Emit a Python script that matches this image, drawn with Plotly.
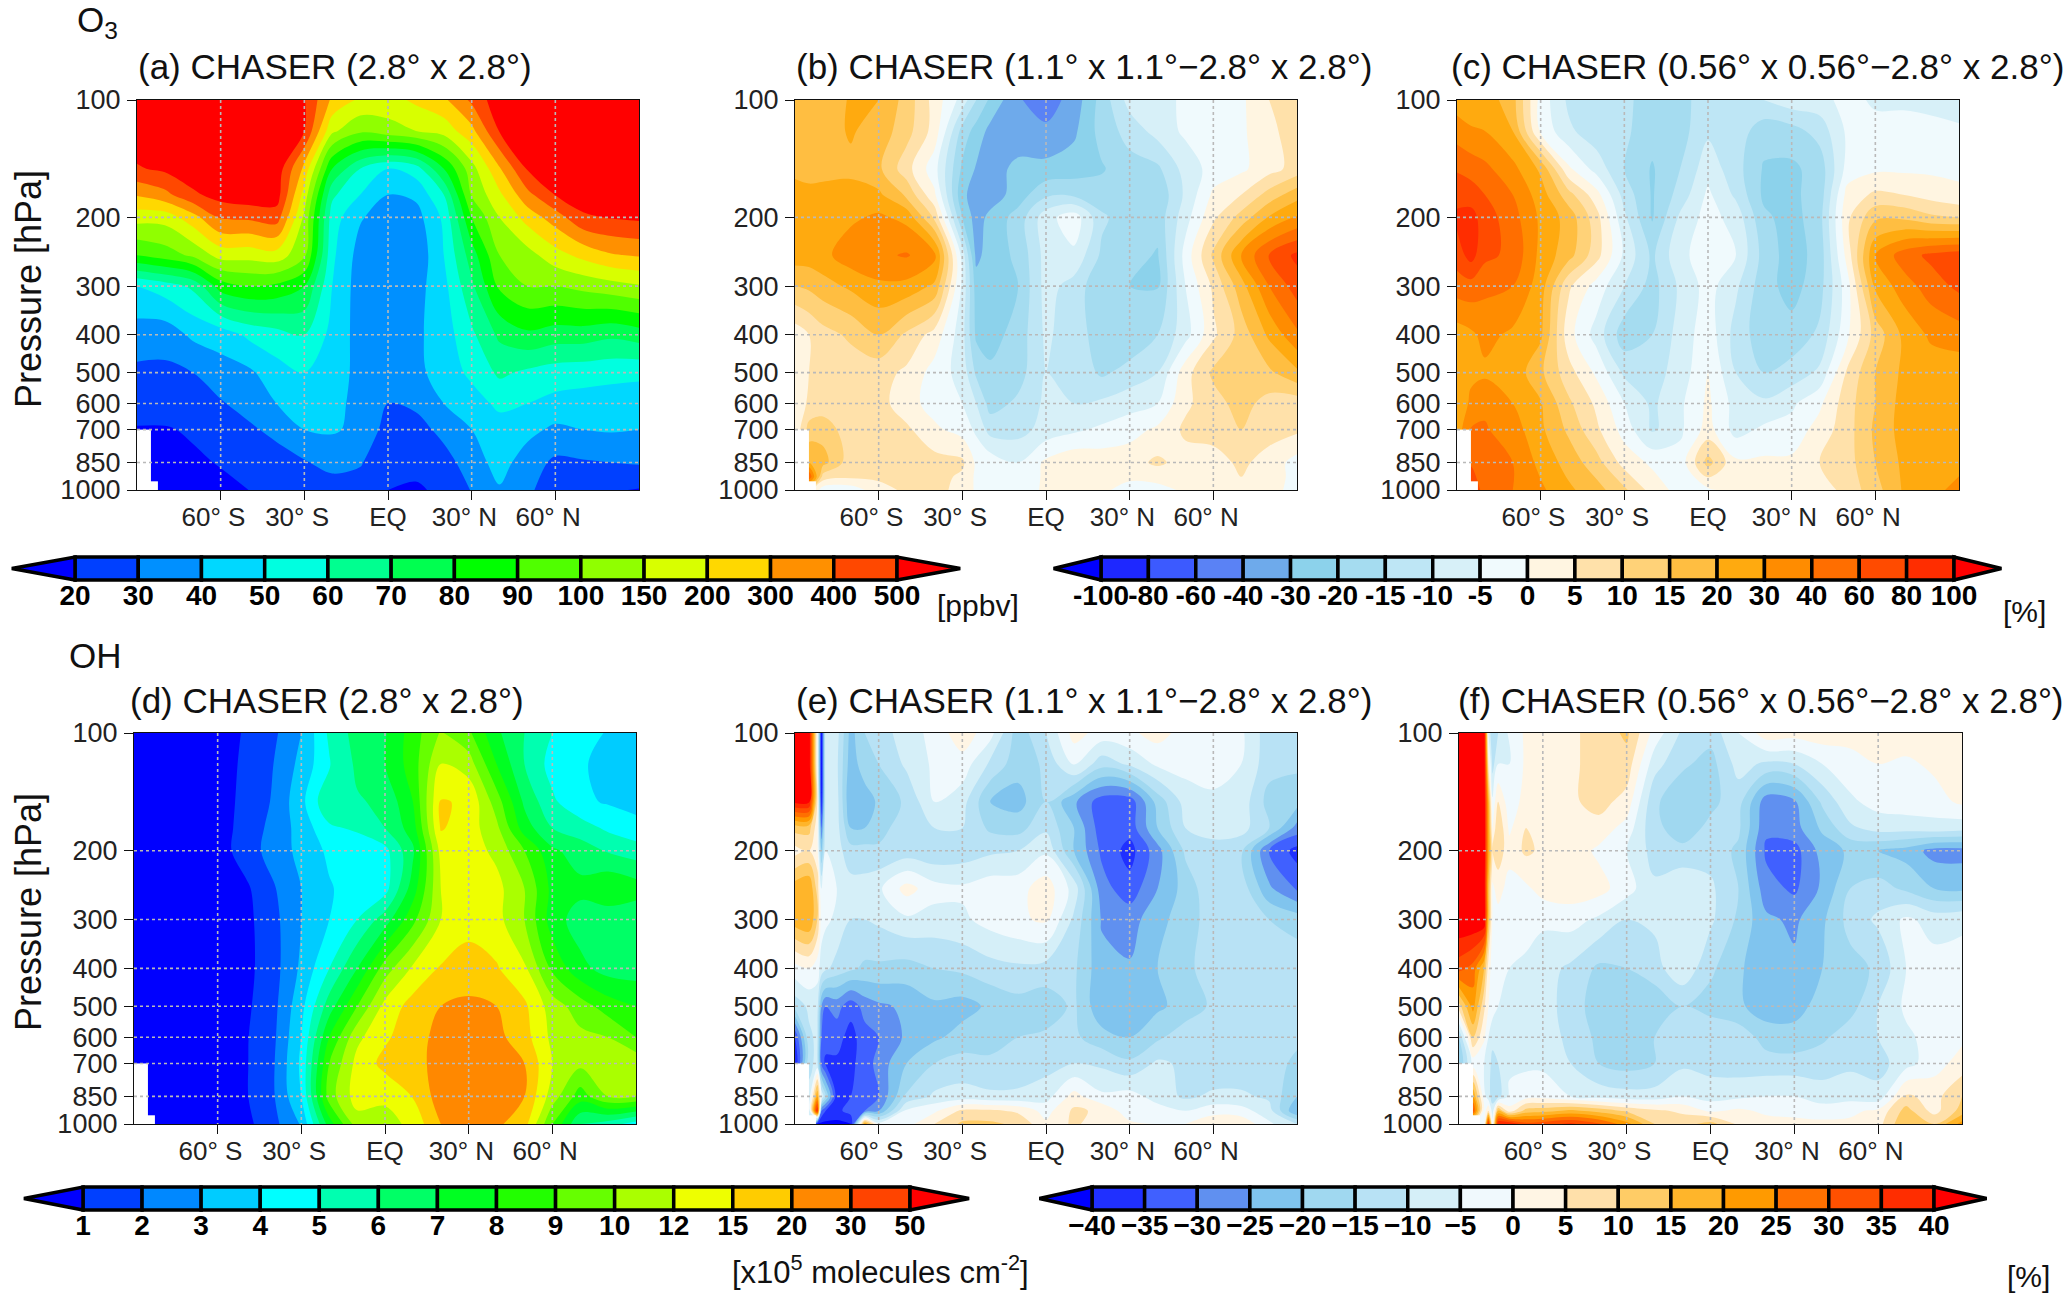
import numpy as np
import plotly.graph_objects as go

W, H = 2067, 1298

# ---------- tick labels / levels ----------
LAT_TICKS = [-60, -30, 0, 30, 60]
LAT_LABELS = ["60° S\u00a0\u00a0", "30° S\u00a0\u00a0", "EQ", "30° N\u00a0\u00a0", "60° N\u00a0\u00a0"]
P_TICKS = [100, 200, 300, 400, 500, 600, 700, 850, 1000]

O3_LEVELS = [20, 30, 40, 50, 60, 70, 80, 90, 100, 150, 200, 300, 400, 500]
O3_COLORS = ["#0000ff", "#0040ff", "#0090ff", "#00d8ff", "#00ffe0", "#00ff90", "#00ff50", "#00ff00",
             "#50ff00", "#90ff00", "#d8ff00", "#ffd800", "#ff9000", "#ff4800", "#ff0000"]
O3D_LEVELS = [-100, -80, -60, -40, -30, -20, -15, -10, -5, 0, 5, 10, 15, 20, 30, 40, 60, 80, 100]
O3D_LABELS = ["-100", "-80", "-60", "-40", "-30", "-20", "-15", "-10", "-5", "0", "5", "10", "15", "20", "30", "40", "60", "80", "100"]
O3D_COLORS = ["#0000ff", "#1e28ff", "#3c5aff", "#5a82f5", "#6eaaeb", "#8cd2eb", "#a5dcf0", "#bee6f5", "#d7f0f8", "#f0fafd",
              "#fff5e1", "#ffe1aa", "#ffd278", "#ffbe41", "#ffaa0f", "#ff8c00", "#ff6e00", "#ff4b00", "#ff2d00", "#ff0000"]
OH_LEVELS = [1, 2, 3, 4, 5, 6, 7, 8, 9, 10, 12, 15, 20, 30, 50]
OH_COLORS = ["#0000ff", "#0040ff", "#0088ff", "#00ccff", "#00ffff", "#00ffb0", "#00ff66", "#00ff22", "#22ff00",
             "#66ff00", "#aaff00", "#eeff00", "#ffcc00", "#ff8800", "#ff4400", "#ff0000"]
OHD_LEVELS = [-40, -35, -30, -25, -20, -15, -10, -5, 0, 5, 10, 15, 20, 25, 30, 35, 40]
OHD_LABELS = ["\u221240", "\u221235", "\u221230", "\u221225", "\u221220", "\u221215", "\u221210", "\u22125", "0", "5", "10", "15", "20", "25", "30", "35", "40"]
OHD_COLORS = ["#0000ff", "#2030ff", "#4060ff", "#6090f0", "#80c4ee", "#a0d8f0", "#b8e2f5", "#d5eff8", "#f0f9fd",
              "#fff5e4", "#ffe0aa", "#ffcc66", "#ffb52a", "#ff9a00", "#ff7000", "#ff5000", "#ff2d00", "#ff0000"]

# ---------- grids ----------
LAT_STD = [-90, -80, -70, -60, -50, -40, -30, -20, -10, 0, 10, 20, 30, 40, 50, 60, 70, 80, 90]
LAT_B = [-90, -85, -80, -70, -60, -50, -40, -30, -25, -20, -10, 0, 10, 20, 30, 40, 50, 60, 70, 80, 90]
LAT_85 = [-90, -85, -80, -70, -60, -50, -40, -30, -20, -10, 0, 10, 20, 30, 40, 50, 60, 70, 80, 90]
LAT_E = [-90, -85, -82, -80.5, -79, -75, -70, -65, -60, -50, -40, -30, -20, -10, 0, 10, 20, 30, 40, 50, 60, 70, 80, 90]
LAT_F = [-90, -85, -81, -79.5, -78, -76, -72, -66, -60, -50, -40, -30, -20, -10, 0, 10, 20, 30, 40, 50, 60, 70, 80, 90]
P_13 = [100, 120, 150, 175, 200, 250, 300, 400, 500, 600, 700, 850, 1000]
P_14 = [100, 120, 150, 175, 200, 250, 300, 400, 500, 600, 700, 850, 925, 1000]

# ---------- panel values (rows = pressure, columns = latitude) ----------
o3_a = [
 [700,700,700,700,700,700,520,280,190,180,220,280,420,700,700,700,700,700,700],
 [700,700,700,700,700,700,500,160,110,130,150,170,270,520,700,700,700,700,700],
 [490,560,700,700,700,700,270,80,60,50,55,80,130,290,530,700,700,700,700],
 [310,370,480,620,700,650,180,62,50,40,42,60,105,190,370,510,700,700,700],
 [170,170,260,410,420,450,140,55,41,35,36,52,90,150,240,350,480,520,560],
 [90,95,110,170,170,180,110,52,36,31,32,50,75,100,130,180,230,290,310],
 [50,55,62,85,90,88,80,50,35,35,36,47,68,92,100,100,115,130,145],
 [35,34,42,44,52,56,60,47,36,35,38,45,58,72,78,75,75,72,75],
 [28,28,30,36,38,46,50,45,37,35,37,45,52,62,58,55,54,53,52],
 [24,24,27,29,34,40,44,42,38,30,32,40,46,52,50,47,46,45,45],
 [19,19,21,25,28,33,40,41,38,26,26,33,40,46,43,38,40,41,40],
 [17,17,18,20.5,24,25,29,34,31,22,23,26,35,44,35,28,29,30,31],
 [16,15,16,17,20,21,24,24,25,20,18,22,30.5,39,31,27,23,21,19],
]
o3_b = [
 [16,16,17,21,20,13,3,-7,-15,-22,-39,-50,-36,-18,-8,-7,-4,-3,-1,5,7],
 [17,17,18,21,18,12,3,-17,-24,-33,-37,-38,-32,-18,-13,-8,-4,-3,-1,4,7],
 [19,18,19,19,16,7,-3,-22,-31,-35,-27,-27,-25,-21,-17,-16,-8,-3,-1,3,7],
 [23,23,22,23,22,14,1,-28,-34,-36,-25,-16,-16,-18,-18,-19,-9,1,5,12,18],
 [27,27,27,28,32,27,9,-20,-35,-27,-18,-7,-2,-14,-18,-18,-7,4,12,21,31],
 [25,25,27,36,38,42,33,-7,-33,-25,-19,-8,-6,-16,-18,-21,-3,11,30,62,85],
 [15,16,18,22,28,27,19,-6,-25,-25,-20,-8,-12,-19,-20,-21,-5,6,18,40,70],
 [2,5,8,11,15,9,3,-8,-22,-24,-18,-9,-13,-17,-19,-15,-7,4,12,22,38],
 [3,5,7,7,7,4,-2,-7,-16,-19,-17,-10,-11,-16,-13,-10,3,11,13,14,19],
 [1,6,7,7,7,2,-2,-5,-10,-17,-14,-9,-10,-9,-7,-5,4,8,12,8,7],
 [1,12,13,7,6,6,1,-2,-6,-12,-12,-8,-6,-4,-2,1,6,7,10,7,6],
 [1,20,17,7,6,6,7,6,-1,-2,-5,1,4,3,3,6,3,3,6,3,-2],
 [1,60,8,6,6,6,7,4,-1,-1,-4,1,2,2,1,2,2,3,5,3,-2],
 [1,8,-3,-3,3,6,6,4,-1,-1,-3,1,1,1,-2,-2,1,3,4,2,-2],
]
o3_c = [
 [25,25,26,17,-2,-11,-13,-14,-17,-17,-12,-12,-10,-7,-7,-3,-6,-6,-7,-8],
 [35,31,30,20,-1,-9,-13,-14,-18,-17,-11,-12,-18,-17,-13,-4,-3,-3,-3,-4],
 [58,52,45,33,19,1,-7,-15,-21,-15,-7,-13,-21,-22,-18,-3,-1,-1,-1,-1],
 [72,70,60,40,25,12,2,-12,-21,-13,-4,-11,-22,-22,-18,2,6,5,3,1],
 [85,88,70,48,28,18,7,-9,-21,-9,-3,-7,-19,-24,-17,4,14,14,11,10],
 [70,88,65,55,27,17,7,-6,-16,-6,-3,-5,-17,-25,-18,2,30,50,65,72],
 [50,52,45,40,25,6,-2,-10,-17,-9,-3,-9,-18,-24,-17,-2,22,35,50,65],
 [25,28,33,28,22,2,-7,-18,-15,-8,-2,-12,-18,-18,-14,-1,12,22,32,35],
 [20,28,28,27,16,7,-1,-11,-12,-8,0,-10,-15,-13,-9,6,15,22,24,24],
 [22,32,38,30,21,11,4,-5,-11,-6,1,-7,-9,-6,-1,8,15,24,25,25],
 [24,42,42,35,22,14,6,-2,-11,-6,2,-7,-4,-3,2,8,16,24,25,25],
 [24,55,45,40,27,18,12,3,-1,-3,12,1,1,1,5,8,15,22,25,26],
 [24,90,45,40,32,22,17,11,3,-2,-1,1,2,1,2,7,13,21,26,34],
]
oh_d = [
 [.5,.5,.5,.5,1.1,1.8,3,5.2,6.4,6.9,8.5,10.2,9.2,7.2,6,5,4.5,3.9,3.5],
 [.5,.5,.5,.5,1.2,2,3.3,4.9,6.2,7,8.5,12,11,8,6,4.6,4.2,3.5,3.3],
 [.5,.5,.5,.5,1.3,2.1,3.7,5.9,5.9,6.2,8,15.5,14.5,9.5,6.8,5.2,4.2,3.9,3.7],
 [.5,.5,.5,.5,1.4,2.3,3.4,4.8,5.2,6,7.5,15.5,13.5,10.5,7.5,6,5.5,4.8,4.3],
 [.5,.5,.5,.5,1.5,2.4,3.3,4.2,4.2,4.7,6.8,13,13.5,11.5,9,7.2,6.5,5.9,5.5],
 [.5,.5,.5,.5,.8,1.9,3,3.9,4.5,4.6,7.5,12,13.5,13,10,7.7,7.3,7.9,7.5],
 [.5,.5,.5,.5,.7,1.7,3,4,5,6.5,8.7,12,13.5,13,10,7.5,6.5,6.3,6.2],
 [.5,.5,.5,.5,.7,1.6,3.2,5,7,9.5,12.5,15.5,18,15.5,12.5,8.8,7.3,6.6,6.5],
 [.5,.5,.5,.5,.8,1.7,3.7,6.5,9,13,17,20,21.5,20,16,11,9.5,8.5,8],
 [.5,.5,.5,.5,.9,1.8,4,8,11.5,14.5,18,23,24,23,17,11.5,10.5,10,9],
 [.5,.5,.5,.5,.9,1.9,4.2,9,13,16.5,18,24,27,26,20,12,10.5,11,11.5],
 [.5,.5,.5,.5,.9,1.9,4,9.5,13.5,12.8,15.2,25,27,26,20,11,8.5,10,10],
 [.5,.5,.5,.5,.7,1.7,3.1,7.5,11,11,13,20,25,22,17,9,6,5.5,4.5],
]
oh_e = [
 [60,60,0,-50,-5,-8,-22,-15,-12,-8,-3,3,-3,-18,-10,2,-2,-1,2,-2,-3,-4,-13,-12],
 [60,60,0,-50,-5,-9,-23,-17,-15,-9,-4,-2,-11,-18,-14,-4,-13,-9,-4,-3,-3,-5,-13,-14],
 [45,45,5,-40,-6,-8,-25,-23,-19,-14,-5,-8,-20,-22,-15,-24,-33,-33,-18,-8,-6,-7,-17,-18],
 [12,12,2,-30,-5,-8,-20,-20,-17,-12,-10,-10,-16,-17,-11,-20,-33,-33,-20,-10,-8,-8,-15,-27],
 [3,5,2,-20,-5,-8,-13,-13,-14,-13,-14,-13,-11,-10,-6,-20,-31,-37,-27,-14,-12,-14,-30,-37],
 [18,20,8,-5,-3,-5,-8,-8,-6,2,-3,-4,-2,-2,3,-7,-28,-33,-25,-18,-11,-12,-24,-31],
 [18,20,10,-3,-4,-6,-10,-10,-9,-6,-7,-6,-3,-1,1,-11,-25.5,-27,-22,-17,-13,-13,-15,-17],
 [-2,0,-3,-7,-9,-12,-14,-16,-16,-17,-15,-14,-12,-11,-12,-14,-23.5,-24.5,-20,-16,-13,-11,-12,-12],
 [-13,-9,-8,-25,-30,-28,-33,-28,-26,-24,-21,-22,-19,-17,-18,-14,-24,-24.5,-21,-18,-14,-10,-12,-12],
 [-35,-11,-9,-30,-33,-33,-37,-32,-30,-24,-21,-18,-17,-15,-14,-14,-18,-20,-16,-12,-13,-12,-11,-13],
 [-40,-11,-9,-32,-36,-36,-36,-33,-28,-20,-15,-13,-14,-13,-12,-10,-11,-14,-9,-11,-14,-14,-11,-17],
 [-9,-9,20,-5,-15,-38,-35,-32,-30,-14,-9,-8,-9,-9,-7,2,-4,-3,-7,-11,-9,-9,-11,-20],
 [-9,-9,40,-30,-35,-37,-32,-30,-25,-4,-1,6,6,4,-2,6,4,-3,-3,-5,-2,-3,-8,-25],
 [-9,-9,-45,-45,-45,-45,-45,20,-3,-2,5,11,11,9,1,6,2,1,0,0,4,4,-4,-10],
]
oh_f = [
 [60,60,60,-5,-15,-10,-4,1,2,4,7,11,-2,-11,-13,-5,3,2,3,2,3,3,3,3],
 [60,60,60,5,-12,-5,-5,1,1,4,7,8,-8,-14,-17,-8,-11,-10,-5,-2,0,-1,1,3],
 [60,60,60,18,-4,5,-3,2,3,4,7,3,-14,-19,-16,-13,-28,-26,-14,-6,-3,-2,-2,1],
 [60,60,60,20,0,10,-1,5,3,4,3,-2,-14,-17,-14,-14,-29,-27,-19,-11,-8,-8,-7,-8],
 [60,60,60,20,5,8,2,6,4,3,-1,-5,-12,-14,-12,-16,-31,-32,-23,-19,-20,-22,-27,-27],
 [60,60,60,15,-1,2,-2,-1,2,3,2,-3,-9,-5,-9,-15,-28,-31,-24,-15,-13,-16,-20,-21],
 [60,60,60,15,-1,-2,-3,-3,-4,-3,-6,-10,-9,-5,-9,-16,-24,-26,-21,-13,-9,-4,-7,-6],
 [32,28,15,3,-3,-4,-5,-6,-8,-11,-16,-15,-12,-6,-14,-19,-24,-24,-20,-17,-14,-5,-3,-3],
 [8,22,6,0,-3,-5,-5,-7,-8,-12,-18,-19,-19,-15,-17,-19,-23,-22,-18,-17,-10,-4,-3,-3],
 [-15,10,1,-5,-8,-6,-6,-5,-6,-12,-16,-18,-15,-13,-11,-12,-17,-18,-16,-12,-10,-6,-3,-1],
 [-20,-3,-5,-7,-12,-10,-6,-6,-6,-10,-15,-17,-15,-11,-12,-13,-13,-13,-12,-11,-12,-7,-2,2],
 [-3,20,-3,-8,-12,-12,-4,-2,-2,-5,-7,-8,-8,-5,-7,-6,-5,-5,-8,-7,-8,6,3,10],
 [-3,32,-3,5,-8,15,2,12,13,16,13,9,6,4,-1,1,-1,-1,-2,-1,1,12,3,12],
 [-3,-3,-5,40,-3,40,40,32,33,36,31,22,10,8,12,4,2,1,1,1,3,15,10,22],
]

PANEL_TITLES = ["(a) CHASER (2.8° x 2.8°)", "(b) CHASER (1.1° x 1.1°\u22122.8° x 2.8°)", "(c) CHASER (0.56° x 0.56°\u22122.8° x 2.8°)",
                "(d) CHASER (2.8° x 2.8°)", "(e) CHASER (1.1° x 1.1°\u22122.8° x 2.8°)", "(f) CHASER (0.56° x 0.56°\u22122.8° x 2.8°)"]

# ---------- layout in pixels ----------
FONT = "Liberation Sans"
panels = [
    dict(z=o3_a, lat=LAT_STD, p=P_13, lev=O3_LEVELS, col=O3_COLORS, lo=5, hi=800, x=(137, 639), y=(100, 490), title=(136, 67)),
    dict(z=o3_b, lat=LAT_B, p=P_14, lev=O3D_LEVELS, col=O3D_COLORS, lo=-150, hi=150, x=(795, 1297), y=(100, 490), title=(794, 67)),
    dict(z=o3_c, lat=LAT_85, p=P_13, lev=O3D_LEVELS, col=O3D_COLORS, lo=-150, hi=150, x=(1457, 1959), y=(100, 490), title=(1449, 67)),
    dict(z=oh_d, lat=LAT_STD, p=P_13, lev=OH_LEVELS, col=OH_COLORS, lo=0, hi=80, x=(134, 636), y=(733, 1124), title=(128, 700)),
    dict(z=oh_e, lat=LAT_E, p=P_14, lev=OHD_LEVELS, col=OHD_COLORS, lo=-60, hi=60, x=(795, 1297), y=(733, 1124), title=(794, 700)),
    dict(z=oh_f, lat=LAT_F, p=P_14, lev=OHD_LEVELS, col=OHD_COLORS, lo=-60, hi=60, x=(1459, 1962), y=(733, 1124), title=(1456, 700)),
]
colorbars = [
    dict(lev=O3_LEVELS, lab=[str(v) for v in O3_LEVELS], col=O3_COLORS, x=(75, 897), y=(557, 580)),
    dict(lev=O3D_LEVELS, lab=O3D_LABELS, col=O3D_COLORS, x=(1101, 1954), y=(557, 580)),
    dict(lev=OH_LEVELS, lab=[str(v) for v in OH_LEVELS], col=OH_COLORS, x=(83, 910), y=(1187, 1210)),
    dict(lev=OHD_LEVELS, lab=OHD_LABELS, col=OHD_COLORS, x=(1092, 1934), y=(1187, 1210)),
]

fx = lambda px: px / W
fy = lambda py: 1 - py / H

fig = go.Figure()
layout = dict(width=W, height=H, margin=dict(l=0, r=0, t=0, b=0, autoexpand=False), paper_bgcolor="white", plot_bgcolor="white",
              showlegend=False, font=dict(family=FONT, color="black"))
shapes, annotations = [], []

for i, pn in enumerate(panels):
    n = i + 1
    sfx = "" if n == 1 else str(n)
    N = len(pn["lev"])
    xp = [pn["lo"]] + pn["lev"] + [pn["hi"]]
    fp = list(range(-1, N + 1))
    zi = np.interp(np.array(pn["z"], dtype=float), xp, fp)
    scale = [[k / N, c] for k, c in enumerate(pn["col"])]
    fig.add_trace(go.Contour(x=pn["lat"], y=pn["p"], z=zi.tolist(), xaxis="x" + sfx, yaxis="y" + sfx,
                             autocontour=False, colorscale=scale, showscale=False, hoverinfo="skip",
                             contours=dict(start=0, end=N - 1, size=1, coloring="fill", showlines=False),
                             line=dict(width=0)))
    layout["xaxis" + sfx] = dict(domain=[fx(pn["x"][0]), fx(pn["x"][1])], range=[-90, 90], anchor="y" + sfx, automargin=False,
                                 tickmode="array", tickvals=LAT_TICKS, ticktext=LAT_LABELS, ticks="outside", ticklen=9,
                                 tickwidth=1.3, tickcolor="#111", tickangle=0, tickfont=dict(size=26, family=FONT, color="#222"),
                                 showgrid=False, zeroline=False, showline=True, linecolor="#111", linewidth=1.3, mirror=True,
                                 ticklabelstandoff=-5)
    layout["yaxis" + sfx] = dict(domain=[fy(pn["y"][1]), fy(pn["y"][0])], type="log", range=[3, 2], anchor="x" + sfx, automargin=False,
                                 tickmode="array", tickvals=P_TICKS, ticktext=[str(v) for v in P_TICKS], ticks="outside", ticklen=9,
                                 tickwidth=1.3, tickcolor="#111", tickfont=dict(size=27, family=FONT, color="#222"),
                                 showgrid=False, zeroline=False, showline=True, linecolor="#111", linewidth=1.3, mirror=True,
                                 ticklabelstandoff=1)
    # missing-data corner (below ground)
    for x1, y0 in [(-85, 700), (-82.5, 950)]:
        shapes.append(dict(type="rect", xref="x" + sfx, yref="y" + sfx, x0=-90, x1=x1, y0=y0, y1=1000,
                           fillcolor="white", line=dict(width=0), layer="above"))
    # dotted grid above the fill
    for lat in LAT_TICKS:
        shapes.append(dict(type="line", xref="x" + sfx, yref="y" + sfx, x0=lat, x1=lat, y0=100, y1=1000,
                           line=dict(color="#b9b9b9", width=1.6, dash="dot"), layer="above"))
    for pv in P_TICKS[1:-1]:
        shapes.append(dict(type="line", xref="x" + sfx, yref="y" + sfx, x0=-90, x1=90, y0=pv, y1=pv,
                           line=dict(color="#b9b9b9", width=1.6, dash="dot"), layer="above"))
    annotations.append(dict(text=PANEL_TITLES[i], xref="paper", yref="paper", x=fx(pn["title"][0]), y=fy(pn["title"][1]),
                            xanchor="left", yanchor="middle", showarrow=False, font=dict(size=35, family=FONT, color="#111")))

for j, cb in enumerate(colorbars):
    n = len(panels) + j + 1
    N = len(cb["lev"])
    band = (cb["x"][1] - cb["x"][0]) / (N - 1)
    pad = 5
    x0, x1 = cb["x"][0] - band - pad, cb["x"][1] + band + pad
    y0, y1 = cb["y"][0] - pad, cb["y"][1] + pad
    hgt = cb["y"][1] - cb["y"][0]
    sx, sy = "x" + str(n), "y" + str(n)
    layout["xaxis" + str(n)] = dict(domain=[fx(x0), fx(x1)], range=[-1 - pad / band, N + pad / band], automargin=False,
                                    anchor="free", position=fy(cb["y"][1] - 4), tickmode="array", tickvals=list(range(N)), ticktext=cb["lab"],
                                    ticks="", tickangle=0, tickfont=dict(size=28, family=FONT, color="black", weight=700),
                                    showgrid=False, zeroline=False, showline=False)
    layout["yaxis" + str(n)] = dict(domain=[fy(y1), fy(y0)], range=[-pad / hgt, 1 + pad / hgt], anchor=sx, visible=False, automargin=False)
    ln = dict(color="black", width=3.5)
    for k in range(N - 1):
        shapes.append(dict(type="rect", xref=sx, yref=sy, x0=k, x1=k + 1, y0=0, y1=1, fillcolor=cb["col"][k + 1], line=ln, layer="above"))
    shapes.append(dict(type="path", xref=sx, yref=sy, path="M 0 0 L -1 0.5 L 0 1 Z", fillcolor=cb["col"][0], line=ln, layer="above"))
    shapes.append(dict(type="path", xref=sx, yref=sy, path=f"M {N-1} 0 L {N} 0.5 L {N-1} 1 Z", fillcolor=cb["col"][-1], line=ln, layer="above"))
    fig.add_trace(go.Scatter(x=[0, N - 1], y=[0.5, 0.5], xaxis=sx, yaxis=sy, mode="markers", marker=dict(opacity=0), hoverinfo="skip"))

def label(text, x, y, size, angle=0, anchor="center"):
    annotations.append(dict(text=text, xref="paper", yref="paper", x=fx(x), y=fy(y), xanchor=anchor, yanchor="middle",
                            showarrow=False, textangle=angle, font=dict(size=size, family=FONT, color="#111")))

label("O<sub>3</sub>", 75, 22, 35, anchor="left")
label("OH", 67, 655, 35, anchor="left")
label("Pressure [hPa]", 28, 289, 36, angle=-90)
label("Pressure [hPa]", 28, 912, 36, angle=-90)
label("[ppbv]", 978, 605, 30)
label("[%]", 2024, 611, 30)
label("[x10<sup>5</sup> molecules cm<sup>-2</sup>]", 880, 1270, 31)
label("[%]", 2028, 1276, 30)

layout["shapes"] = shapes
layout["annotations"] = annotations
fig.update_layout(**layout)
fig.write_html("out.html", config={"displayModeBar": False},
               post_script="document.body.style.margin='0';document.body.style.overflow='hidden';")
